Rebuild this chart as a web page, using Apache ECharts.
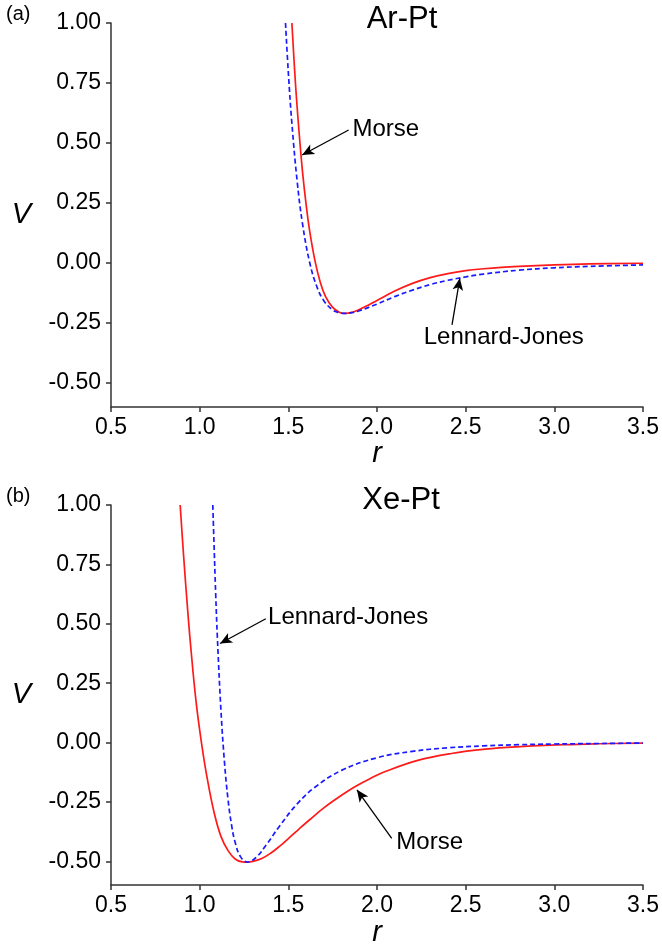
<!DOCTYPE html>
<html>
<head>
<meta charset="utf-8">
<script src="https://cdn.jsdelivr.net/npm/echarts@6/dist/echarts.min.js"></script>
<style>
  html, body { margin: 0; padding: 0; background: #fff; }
  #chart { width: 662px; height: 948px; }
</style>
</head>
<body>
<div id="chart"></div>
<script>
// panel (a) Ar-Pt
const rMorseA = [1.52, 1.54, 1.56, 1.58, 1.60, 1.62, 1.65, 1.68, 1.71, 1.75, 1.79, 1.82, 1.86, 1.90, 1.95, 2.00, 2.10, 2.20, 2.30, 2.40, 2.50, 2.60, 2.70, 2.80, 3.00, 3.20, 3.50];
const vMorseA = [1.00, 0.75, 0.55, 0.38, 0.245, 0.135, 0.01, -0.08, -0.14, -0.185, -0.206, -0.21, -0.205, -0.194, -0.176, -0.156, -0.117, -0.085, -0.061, -0.044, -0.032, -0.024, -0.018, -0.014, -0.008, -0.004, -0.001];
const rLJA = [1.484, 1.50, 1.52, 1.55, 1.58, 1.62, 1.66, 1.70, 1.75, 1.78, 1.82, 1.86, 1.90, 2.00, 2.10, 2.20, 2.30, 2.40, 2.50, 2.60, 2.80, 3.00, 3.20, 3.50];
const vLJA = [1.00, 0.793, 0.582, 0.339, 0.163, 0.003, -0.097, -0.157, -0.196, -0.206, -0.21, -0.207, -0.199, -0.171, -0.140, -0.113, -0.090, -0.072, -0.058, -0.046, -0.030, -0.020, -0.014, -0.008];

// panel (b) Xe-Pt
const rMorseB = [0.89, 0.91, 0.93, 0.95, 0.98, 1.01, 1.04, 1.08, 1.12, 1.16, 1.20, 1.24, 1.27, 1.30, 1.35, 1.40, 1.45, 1.50, 1.56, 1.62, 1.70, 1.80, 1.88, 1.96, 2.05, 2.23, 2.42, 2.61, 2.79, 3.05, 3.25, 3.50];
const vMorseB = [1.00, 0.78, 0.58, 0.40, 0.17, 0.00, -0.14, -0.29, -0.395, -0.455, -0.49, -0.502, -0.503, -0.500, -0.488, -0.466, -0.437, -0.404, -0.364, -0.325, -0.275, -0.222, -0.184, -0.152, -0.121, -0.075, -0.046, -0.028, -0.018, -0.009, -0.005, -0.002];
const rLJB = [1.074, 1.08, 1.09, 1.10, 1.12, 1.14, 1.16, 1.18, 1.20, 1.23, 1.27, 1.32, 1.38, 1.45, 1.55, 1.65, 1.80, 2.00, 2.20, 2.40, 2.60, 2.80, 3.00, 3.25, 3.50];
const vLJB = [1.00, 0.859, 0.633, 0.440, 0.135, -0.084, -0.240, -0.348, -0.420, -0.480, -0.503, -0.482, -0.426, -0.352, -0.258, -0.188, -0.117, -0.064, -0.037, -0.022, -0.014, -0.009, -0.006, -0.004, -0.002];

const yTicks = [-0.5, -0.25, 0, 0.25, 0.5, 0.75, 1.0];

// annotations: [text, textR, textV, tailR, tailV, tipR, tipV]
const notesA = [
  ['Morse', 2.05, 0.558, 1.84, 0.554, 1.578, 0.45],
  ['Lennard-Jones', 2.715, -0.308, 2.423, -0.258, 2.467, -0.064]
];
const notesB = [
  ['Lennard-Jones', 1.837, 0.525, 1.373, 0.521, 1.115, 0.417],
  ['Morse', 2.297, -0.421, 2.083, -0.403, 1.887, -0.199]
];

const zip = (xs, ys) => xs.map((x, i) => [x, ys[i]]);

const AXIS = '#333';
const FONT = '"Liberation Sans", Arial, sans-serif';

function xAxisOf(idx) {
  return {
    type: 'value', gridIndex: idx, min: 0.5, max: 3.5, interval: 0.5,
    name: 'r', nameLocation: 'middle', nameGap: 30,
    nameTextStyle: { fontSize: 29, fontStyle: 'italic', color: '#000', fontFamily: FONT },
    axisLine: { onZero: false, lineStyle: { color: AXIS, width: 1.5 } },
    axisTick: { length: 5, lineStyle: { color: AXIS, width: 1.5 } },
    axisLabel: { fontSize: 23, color: '#000', fontFamily: FONT, margin: 9, formatter: v => v.toFixed(1) },
    splitLine: { show: false }
  };
}

function yAxisOf(idx) {
  return {
    type: 'value', gridIndex: idx, min: -0.6, max: 1.0,
    name: 'V', nameLocation: 'middle', nameGap: 80, nameRotate: 0,
    nameTextStyle: { fontSize: 29, fontStyle: 'italic', color: '#000', fontFamily: FONT },
    axisLine: { show: true, lineStyle: { color: AXIS, width: 1.5 } },
    axisTick: { show: true, length: 5, customValues: yTicks, lineStyle: { color: AXIS, width: 1.5 } },
    axisLabel: { fontSize: 23, color: '#000', fontFamily: FONT, margin: 10, customValues: yTicks, formatter: v => v.toFixed(2) },
    splitLine: { show: false }
  };
}

function curve(idx, r, v, color, dashed) {
  return {
    type: 'line', xAxisIndex: idx, yAxisIndex: idx,
    data: zip(r, v), showSymbol: false, symbol: 'none', smooth: 0.4,
    lineStyle: { color, width: 1.7, type: dashed ? [5, 3] : 'solid' },
    silent: true, animation: false
  };
}

function notes(idx, list) {
  return [{
    type: 'scatter', xAxisIndex: idx, yAxisIndex: idx, symbolSize: 0,
    itemStyle: { opacity: 1 },
    data: list.map(n => ({ value: [n[1], n[2]], name: n[0] })),
    label: { show: true, position: 'inside', formatter: p => p.name, fontSize: 24, color: '#000', fontFamily: FONT },
    silent: true, animation: false,
    markLine: {
      silent: true, animation: false, symbol: ['none', 'arrow'], symbolSize: [8, 12],
      lineStyle: { color: '#000', width: 1.3, type: 'solid' },
      label: { show: false },
      data: list.map(n => [{ coord: [n[3], n[4]] }, { coord: [n[5], n[6]] }])
    }
  }];
}

const chart = echarts.init(document.getElementById('chart'), null, { renderer: 'canvas' });
chart.setOption({
  backgroundColor: '#fff',
  animation: false,
  title: [
    { text: '(a)', left: 6, top: 4, padding: 0, textStyle: { fontSize: 20, fontWeight: 'normal', color: '#000', fontFamily: FONT } },
    { text: 'Ar-Pt', left: 402, top: 4, padding: 0, textAlign: 'center', textStyle: { fontSize: 31, fontWeight: 'normal', color: '#000', fontFamily: FONT } },
    { text: '(b)', left: 6, top: 486, padding: 0, textStyle: { fontSize: 20, fontWeight: 'normal', color: '#000', fontFamily: FONT } },
    { text: 'Xe-Pt', left: 401, top: 485, padding: 0, textAlign: 'center', textStyle: { fontSize: 31, fontWeight: 'normal', color: '#000', fontFamily: FONT } }
  ],
  grid: [
    { left: 111, top: 23, width: 535, height: 384 },
    { left: 111, top: 505, width: 535, height: 384 }
  ],
  xAxis: [xAxisOf(0), xAxisOf(1)],
  yAxis: [yAxisOf(0), yAxisOf(1)],
  series: [
    curve(0, rMorseA, vMorseA, '#ff1a1a', false),
    curve(0, rLJA, vLJA, '#1a1aff', true),
    curve(1, rMorseB, vMorseB, '#ff1a1a', false),
    curve(1, rLJB, vLJB, '#1a1aff', true),
    ...notes(0, notesA),
    ...notes(1, notesB)
  ]
});
</script>
</body>
</html>
